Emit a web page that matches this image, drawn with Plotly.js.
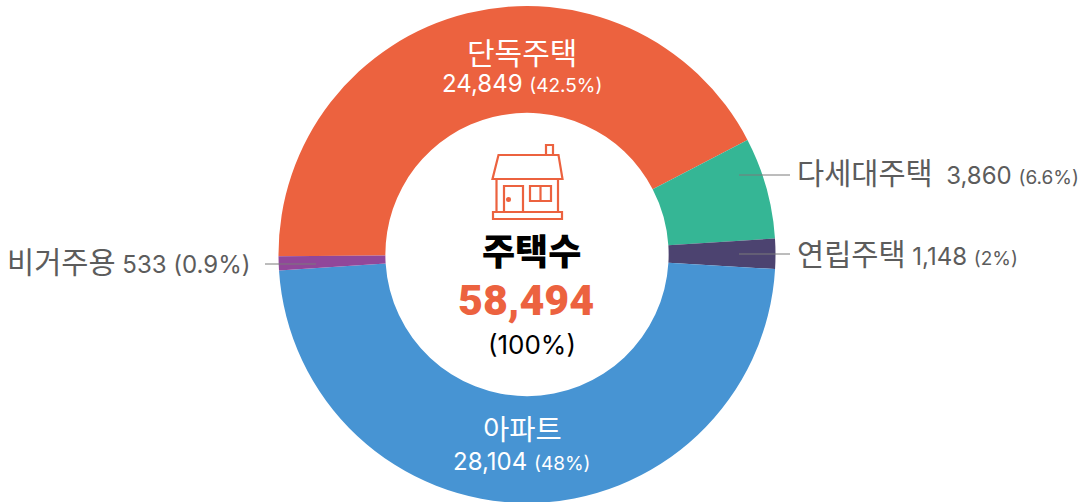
<!DOCTYPE html>
<html><head><meta charset="utf-8">
<script src="https://cdn.plot.ly/plotly-3.0.1.min.js"></script>
<style>html,body{margin:0;padding:0;background:#fff;overflow:hidden;height:502px}</style>
</head><body><div id="chart" style="width:1085px;height:504px"></div>
<script>
const categories = ['단독주택','다세대주택','연립주택','아파트','비거주용'];
const values = [24849,3860,1148,28104,533];
const percents = ['42.5%','6.6%','2%','48%','0.9%'];
const colors = ['#ec623f','#35b695','#4c4370','#4794d3','#91479a'];
const W=1085,H=504;
const FONT='Inter,"Noto Sans CJK KR","Noto Sans",sans-serif';
const TOTALFONT='Roboto,Inter,sans-serif';
const px=x=>x/W, py=y=>1-y/H;
const num=i=>values[i].toLocaleString('en-US');
const sz=(s,n)=>`<span style="font-size:${n}px">${s}</span>`;
function note(x,y,text,size,color,anchor,weight,family){
  return {xref:'paper',yref:'paper',x:px(x),y:py(y),text,showarrow:false,
    xanchor:anchor||'center',yanchor:'middle',font:{family:family||FONT,size,color,weight:weight||400}};
}
const grey='#5c5c5c';
const annotations=[
  note(522,53,categories[0],30,'#fff'),
  note(522,84,`${num(0)} ${sz('('+percents[0]+')',19)}`,24,'#fff'),
  note(522,429,categories[3],28.5,'#fff'),
  note(522,461,`${num(3)} ${sz('('+percents[3]+')',19)}`,24,'#fff'),
  note(795,173,`${sz(categories[1],29.5)}  ${num(1)} ${sz('('+percents[1]+')',19)}`,24,grey,'left'),
  note(795,254,`${sz(categories[2],29.5)} ${num(2)} ${sz('('+percents[2]+')',19)}`,24,grey,'left'),
  note(5,262,`${sz(categories[4],29.5)} ${num(4)} (${percents[4]})`,24,grey,'left'),
  note(531,252,'주택수',36,'#000','center',900),
  note(526,300,values.reduce((a,b)=>a+b,0).toLocaleString('en-US'),43,colors[0],'center',900,TOTALFONT),
  note(532,344,'(100%)',26,'#000')
];
const P=(pts,close)=>pts.map((p,i)=>(i?'L':'M')+px(p[0])+','+py(p[1])).join(' ')+(close?' Z':'');
const iconLine={color:colors[0],width:2.2};
const iconPaths=[
  [[[498.5,155],[558.5,155],[562.5,179],[492.5,179]],true],
  [[[546,145],[553,145],[553,155],[546,155]],true],
  [[[496.5,179],[496.5,212]],false],
  [[[558,179],[558,212]],false],
  [[[493,212],[562,212],[562,219],[493,219]],true],
  [[[504,212],[504,186],[523,186],[523,212]],false],
  [[[530,186],[551,186],[551,201],[530,201]],true],
  [[[540.5,186],[540.5,201]],false]
];
const shapes=iconPaths.map(([pts,c])=>({type:'path',xref:'paper',yref:'paper',path:P(pts,c),line:iconLine}));
shapes.push({type:'circle',xref:'paper',yref:'paper',x0:px(506),x1:px(511),y0:py(202),y1:py(197),fillcolor:colors[0],line:{width:0}});
[[739,790,175],[739,790,254],[265,316,264]].forEach(([a,b,y])=>shapes.push({type:'line',xref:'paper',yref:'paper',
  x0:px(a),x1:px(b),y0:py(y),y1:py(y),line:{color:'#7a7a7a',width:1}}));
Plotly.newPlot('chart',[{
  type:'pie',labels:categories,values:values,sort:false,direction:'clockwise',rotation:-90.4,
  hole:0.57,textinfo:'none',hoverinfo:'label+value+percent',
  marker:{colors:colors,line:{width:0}},
  domain:{x:[278/W,776/W],y:[1/H,498/H]}
}],{width:W,height:H,margin:{l:0,r:0,t:0,b:0},showlegend:false,paper_bgcolor:'#fff',
  annotations,shapes},{displayModeBar:false,staticPlot:true});
</script></body></html>
